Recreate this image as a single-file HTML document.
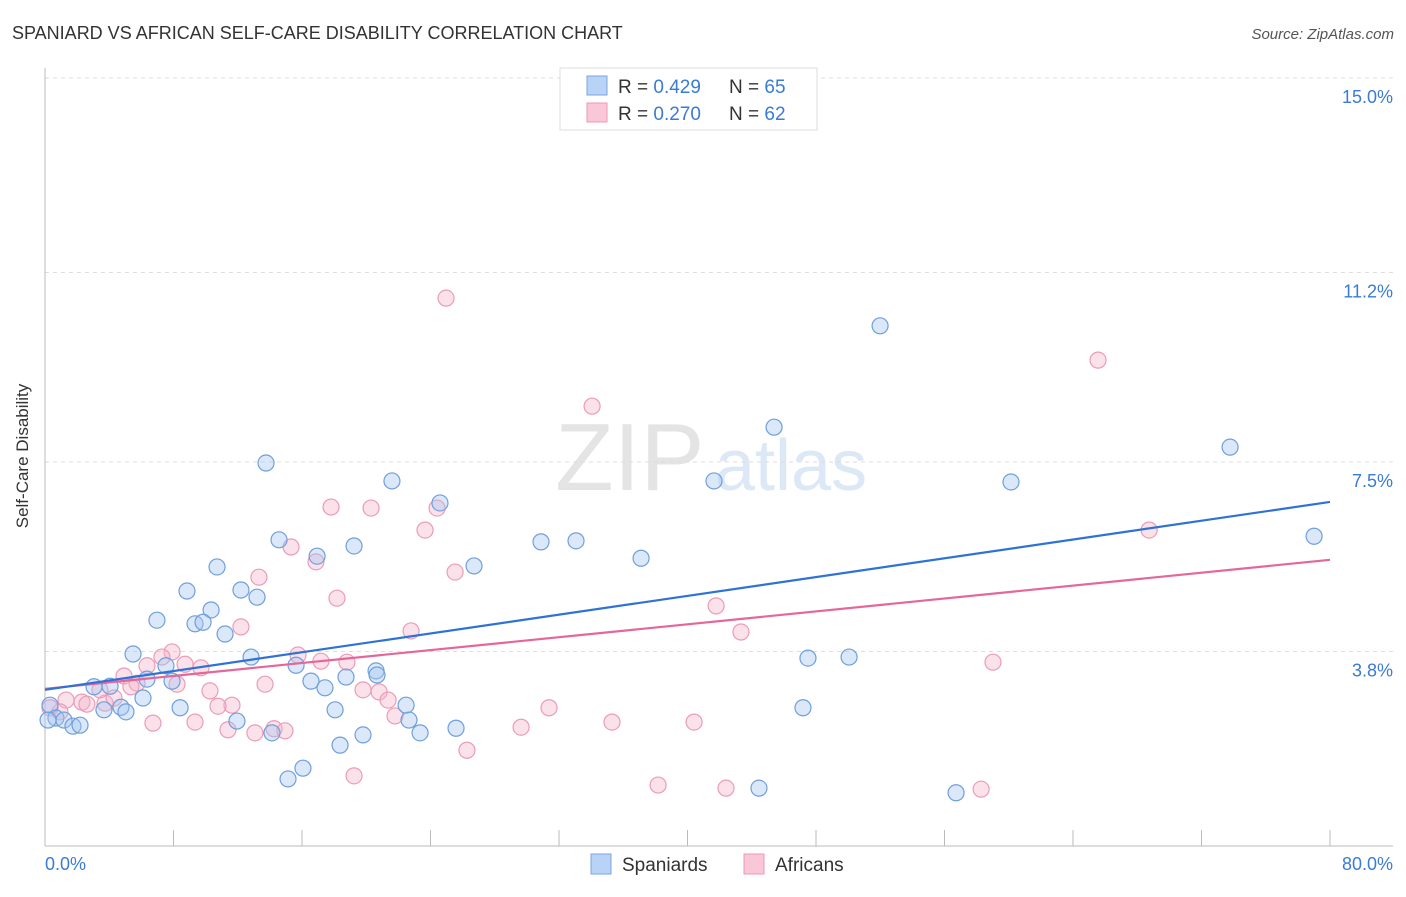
<!DOCTYPE html>
<html><head><meta charset="utf-8">
<style>
body{margin:0;background:#fff;font-family:"Liberation Sans",sans-serif;}
svg text{font-family:"Liberation Sans",sans-serif;}
</style></head>
<body>
<svg id="chart" width="1406" height="892" xmlns="http://www.w3.org/2000/svg">
<text x="12" y="39" font-size="18" fill="#333">SPANIARD VS AFRICAN SELF-CARE DISABILITY CORRELATION CHART</text>
<text x="1394" y="39" font-size="15" fill="#555" font-style="italic" text-anchor="end">Source: ZipAtlas.com</text>
<text x="555" y="490" font-size="96" fill="#e4e4e4" font-family="Liberation Serif">ZIP</text>
<text x="715" y="490" font-size="72" fill="#dce8f6">atlas</text>
<g id="grid"></g>
<line x1="45" y1="68" x2="45" y2="846" stroke="#bbb"/>
<line x1="45" y1="846" x2="1393" y2="846" stroke="#bbb"/>
<g id="xticks"></g>
<text x="28" y="456" font-size="17" fill="#333" text-anchor="middle" transform="rotate(-90 28 456)">Self-Care Disability</text>
<text x="45" y="870" font-size="18" fill="#3a7bd5">0.0%</text>
<text x="1393" y="870" font-size="18" fill="#3a7bd5" text-anchor="end">80.0%</text>
<g id="pts"></g>
<g id="lines"></g>
<g>
<rect x="560" y="68" width="257" height="62" fill="#fff" stroke="#ddd"/>
<rect x="587" y="76" width="20" height="19" fill="#b8d3f5" stroke="#7aa6e0"/>
<rect x="587" y="103" width="20" height="19" fill="#f9c7d7" stroke="#ec9ab7"/>
<text x="618" y="93" font-size="19" fill="#333">R = <tspan fill="#3a7bd5">0.429</tspan><tspan x="729">N = </tspan><tspan fill="#3a7bd5">65</tspan></text>
<text x="618" y="120" font-size="19" fill="#333">R = <tspan fill="#3a7bd5">0.270</tspan><tspan x="729">N = </tspan><tspan fill="#3a7bd5">62</tspan></text>
</g>
<g>
<rect x="591" y="854" width="20" height="20" fill="#b8d3f5" stroke="#7aa6e0"/>
<text x="622" y="871" font-size="19" fill="#333">Spaniards</text>
<rect x="744" y="854" width="20" height="20" fill="#f9c7d7" stroke="#ec9ab7"/>
<text x="775" y="871" font-size="19" fill="#333">Africans</text>
</g>
</svg>
<script>
const yTicks=[3.8,7.5,11.2,15.0];
const yTickLabels=["3.8%","7.5%","11.2%","15.0%"];
const xTicks=[0,8,16,24,32,40,48,56,64,72,80];
const spanX=[13.76,8.84,10.71,6.97,10.34,12.20,13.20,9.34,9.84,11.21,5.48,7.53,6.35,7.91,12.83,3.05,4.05,6.10,4.73,5.04,3.67,8.41,11.95,14.57,16.94,19.24,21.60,24.59,26.71,15.63,16.56,17.43,18.74,20.61,20.67,18.06,22.48,22.66,23.35,19.80,18.37,14.13,16.06,15.13,25.59,30.88,33.06,37.11,41.65,45.39,47.50,50.06,47.19,51.99,44.45,56.72,60.14,73.78,79.01,0.31,0.68,1.18,1.74,2.18,0.19];
const spanY=[7.48,4.98,5.45,4.41,4.61,5.00,4.86,4.34,4.37,4.14,3.75,3.52,3.26,3.22,3.69,3.11,3.12,2.89,2.71,2.62,2.66,2.70,2.44,5.98,5.66,5.86,7.13,6.70,5.47,3.53,3.22,3.09,3.30,3.42,3.34,2.66,2.75,2.46,2.21,2.17,1.97,2.21,1.52,1.31,2.30,5.94,5.96,5.62,7.13,8.18,3.67,3.69,2.70,10.16,1.13,1.04,7.11,7.79,6.05,2.75,2.50,2.46,2.34,2.36,2.46];
const afrX=[24.97,65.56,34.06,68.74,17.81,20.30,24.41,23.66,15.32,16.87,13.32,18.18,25.53,22.79,12.20,41.78,43.33,59.02,7.91,6.35,7.28,8.72,9.71,4.92,5.73,8.22,5.35,10.27,13.70,15.75,17.18,18.80,19.80,20.80,21.36,21.79,11.64,10.77,3.74,4.30,2.30,1.31,2.61,6.72,9.34,11.39,13.07,14.26,14.94,29.64,31.38,35.30,40.41,26.27,19.24,38.17,42.40,58.28,0.93,0.31,3.42];
const afrY=[10.70,9.49,8.59,6.17,6.62,6.60,6.60,6.17,5.84,5.55,5.25,4.84,5.35,4.20,4.28,4.69,4.18,3.59,3.79,3.52,3.69,3.55,3.48,3.32,3.18,3.16,3.11,3.03,3.16,3.73,3.61,3.59,3.05,3.01,2.85,2.54,2.75,2.73,2.79,2.89,2.81,2.85,2.77,2.40,2.42,2.27,2.21,2.29,2.25,2.32,2.70,2.42,2.42,1.87,1.37,1.19,1.13,1.11,2.62,2.70,3.05];
const spanTrend=[3.05,6.72];
const afrTrend=[3.07,5.59];
const NS="http://www.w3.org/2000/svg";
const sx=v=>45+v/80*1285;
const sy=v=>846-v*51.2;
function mk(t,a,p){const e=document.createElementNS(NS,t);for(const k in a)e.setAttribute(k,a[k]);p.appendChild(e);return e;}
const grid=document.getElementById('grid');
yTicks.forEach((v,i)=>{
 const l=mk('line',{x1:45,x2:1393,y1:sy(v),y2:sy(v),stroke:'#ddd','stroke-dasharray':'4,4'},grid);
 
 
 const t=mk('text',{x:1393,y:sy(v)+25,'font-size':18,fill:'#3a7bd5','text-anchor':'end'},grid);
 t.textContent=yTickLabels[i];
 
 
});
const xt=document.getElementById('xticks');
xTicks.forEach(v=>{
 const l=mk('line',{x1:sx(v),x2:sx(v),y1:830,y2:846,stroke:'#bbb'},xt);
 
 
});
const pts=document.getElementById('pts');
afrX.forEach((x,i)=>{
 const c=mk('circle',{cx:sx(x),cy:sy(afrY[i]),r:8,fill:'rgba(246,180,202,0.4)',stroke:'#eb9cb8','stroke-width':1.2},pts);
 
 
});
spanX.forEach((x,i)=>{
 const c=mk('circle',{cx:sx(x),cy:sy(spanY[i]),r:8,fill:'rgba(164,197,240,0.4)',stroke:'#6f9fdc','stroke-width':1.2},pts);
 
 
});
const ln=document.getElementById('lines');
const l1=mk('line',{x1:sx(0),y1:sy(afrTrend[0]),x2:sx(80),y2:sy(afrTrend[1]),stroke:'#e4679a','stroke-width':2.2},ln);


const l2=mk('line',{x1:sx(0),y1:sy(spanTrend[0]),x2:sx(80),y2:sy(spanTrend[1]),stroke:'#2f72d6','stroke-width':2.2},ln);


</script>
</body></html>
